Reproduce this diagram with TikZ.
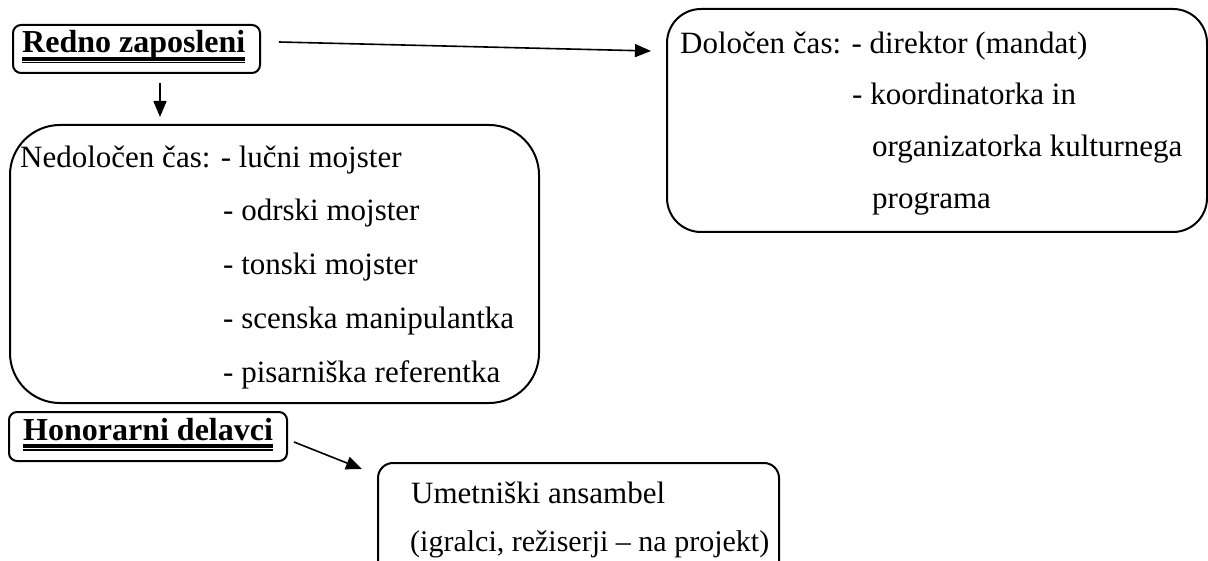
\documentclass[tikz,border=0pt]{standalone}
\usepackage{fontspec}
\setmainfont{Liberation Serif}
\usetikzlibrary{arrows.meta}

\newcommand{\dblunder}[1]{\setbox0=\hbox{#1}\rlap{\rule[-8.3pt]{\wd0}{4pt}}\rlap{\rule[-10.5pt]{\wd0}{1.2pt}}\box0}

\begin{document}
\begin{tikzpicture}[x=1pt,y=-1pt,
    box/.style={draw,line width=2pt,inner sep=0pt},
    txt/.style={anchor=base west,inner sep=0pt,font=\fontsize{31}{52}\selectfont},
    head/.style={anchor=base west,inner sep=0pt,font=\fontsize{32}{40}\selectfont\bfseries},
    arr/.style={line width=1.6pt,-{Triangle[length=16pt,width=13pt]}}]
    \useasboundingbox (0,0) rectangle (1208,561);

    % redno zaposleni
    \node[box,rounded corners=8pt,minimum width=247pt,minimum height=48pt] (redno) at (136.5,49) {};
    \node[head] (rednotxt) at (22,53) {\dblunder{Redno zaposleni}};

    % dolocen cas
    \node[box,rounded corners=34pt,minimum width=540pt,minimum height=223pt] (dolocen) at (937,120.5) {};
    \node[txt] (dolocen1) at (680,54) {Določen čas: - direktor (mandat)};
    \node[txt] (dolocen2) at (852,105) {- koordinatorka in};
    \node[txt] (dolocen3) at (872,157) {organizatorka kulturnega};
    \node[txt] (dolocen4) at (872,209) {programa};

    % nedolocen cas
    \node[box,rounded corners=50pt,minimum width=529pt,minimum height=278pt] (nedolocen) at (274.5,264) {};
    \node[txt] (nedolocen1) at (20,168) {Nedoločen čas: - lučni mojster};
    \node[txt] (nedolocen2) at (223,221) {- odrski mojster};
    \node[txt] (nedolocen3) at (223,275) {- tonski mojster};
    \node[txt] (nedolocen4) at (223,329) {- scenska manipulantka};
    \node[txt] (nedolocen5) at (223,383) {- pisarniška referentka};

    % honorarni delavci
    \node[box,rounded corners=8pt,minimum width=278pt,minimum height=49pt] (honorarni) at (148,436.5) {};
    \node[head] (honorarnitxt) at (23,440) {\dblunder{Honorarni delavci}};

    % umetniski ansambel
    \node[box,rounded corners=15pt,minimum width=401pt,minimum height=127pt] (umetniski) at (578.5,526.5) {};
    \node[txt] (umetniski1) at (411,503) {Umetniški ansambel};
    \node[txt,font=\fontsize{30}{52}\selectfont] (umetniski2) at (410,551) {(igralci, režiserji – na projekt)};

    \draw[arr] ([xshift=18pt,yshift=7pt]redno.east) -- ([xshift=-15pt,yshift=-43pt]dolocen.north west);
    \draw[arr] ([xshift=23.5pt,yshift=-9pt]redno.south) -- ([xshift=-114.5pt,yshift=7pt]nedolocen.north);
    \draw[arr] ([xshift=6pt,yshift=-5.5pt]honorarni.east) -- ([xshift=-15pt,yshift=-7pt]umetniski.north west);
\end{tikzpicture}
\end{document}
